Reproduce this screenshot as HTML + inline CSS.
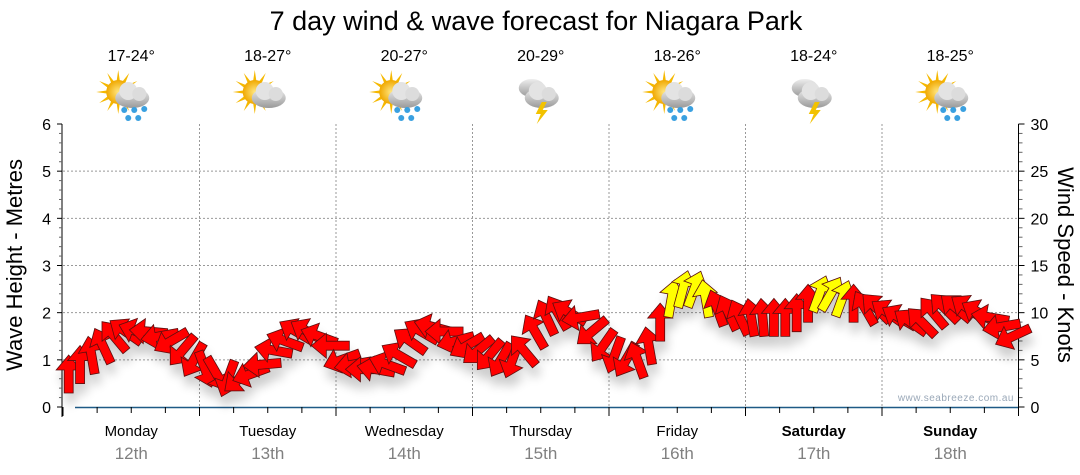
<!DOCTYPE html>
<html><head><meta charset="utf-8"><style>
html,body{margin:0;padding:0;background:#fff;}
svg{display:block;font-family:"Liberation Sans",sans-serif;}
</style></head><body>
<svg id="chart" width="1080" height="475" viewBox="0 0 1080 475" xmlns="http://www.w3.org/2000/svg">
<defs>
<filter id="sh" x="-50%" y="-50%" width="200%" height="200%">
<feGaussianBlur in="SourceAlpha" stdDeviation="5"/>
<feOffset dx="2" dy="10" result="b"/>
<feComponentTransfer><feFuncA type="linear" slope="0.2"/></feComponentTransfer>
<feMerge><feMergeNode/><feMergeNode in="SourceGraphic"/></feMerge>
</filter>
<radialGradient id="sun" cx="0.5" cy="0.5" r="0.5"><stop offset="0" stop-color="#ffe680"/><stop offset="1" stop-color="#f0a800"/></radialGradient>
<linearGradient id="cloud" x1="0" y1="0" x2="0" y2="1"><stop offset="0" stop-color="#eeeeee"/><stop offset="1" stop-color="#9a9a9a"/></linearGradient>
</defs>
<text x="536" y="30" text-anchor="middle" font-size="27" fill="#000">7 day wind &amp; wave forecast for Niagara Park</text>
<g id="grid"></g>
<g id="axes"></g>
<g id="topg"></g>
<g id="arrows" filter="url(#sh)"></g>
<text x="1014" y="401" text-anchor="end" font-size="10" fill="#9aa8b8" letter-spacing="0.5">www.seabreeze.com.au</text>
<text transform="translate(22,265) rotate(-90)" text-anchor="middle" font-size="22" fill="#000">Wave Height - Metres</text>
<text transform="translate(1058,265) rotate(90)" text-anchor="middle" font-size="22" fill="#000">Wind Speed - Knots</text>
</svg>
<script>
const days = ["Monday","Tuesday","Wednesday","Thursday","Friday","Saturday","Sunday"];
const dates = ["12th","13th","14th","15th","16th","17th","18th"];
const temps = ["17-24°","18-27°","20-27°","20-29°","18-26°","18-24°","18-25°"];
const icons = ["rain","cloud","rain","storm","rain","storm","rain"];
const waveTicks = [0,1,2,3,4,5,6];
const windTicks = [0,5,10,15,20,25,30];
// wind speed (knots) every 2 hours
const windSpeed = [
 3.5,4.5,5.5,6.5,7.5,8,8,8,7.5,7,6,5,
 4,3.5,3,3,3.5,4.5,6,7,8,8,7.5,6.5,
 5,4.5,4,4,4.5,5.5,7,8,8.5,8,7,6.5,
 6,5.5,5,5,6,8,9.5,10,10,9.5,8,6.5,
 5.5,5,5,6.5,9,11.5,12.5,12.5,11.5,10.5,10,9.5,
 9.5,9.5,9.5,9.5,10,11,12,12,11.5,11,10.5,10.5,
 10,9.5,9,9,10,10.5,10.5,10.5,10,9.5,8.5,7.5
];
// arrow direction (deg, 0 = pointing up, clockwise)
const windDir = [
 0,0,-10,-25,-40,-55,-70,-85,-100,-120,-140,-150,
 160,150,-160,-130,-110,-95,-80,-70,-60,-60,-70,-90,
 -110,-100,-90,-80,-70,-60,-55,-60,-75,-90,-105,-120,
 -130,-140,-150,-160,-40,-30,-25,-30,-60,-100,-130,-145,
 -160,-150,-20,-10,0,10,15,20,-10,-20,-25,-25,
 -10,-5,0,0,0,0,20,30,20,0,-30,-45,
 -55,-60,-55,-45,-40,-45,-50,-55,-60,-80,-100,-115
];
const gustLimit = 11.5;

const NS="http://www.w3.org/2000/svg";
function el(tag,attrs,parent,txt){const e=document.createElementNS(NS,tag);for(const k in attrs)e.setAttribute(k,attrs[k]);if(txt!==undefined)e.textContent=txt;parent.appendChild(e);return e;}
const X0=63,X1=1018.5,Y0=407,Y1=124;
const dayW=(X1-X0)/7;
const yWave=v=>Y0-(v/6)*(Y0-Y1);
const yWind=v=>Y0-(v/30)*(Y0-Y1);
const xTime=h=>X0+h/24*dayW;
const gridG=document.getElementById('grid'),axesG=document.getElementById('axes'),topG=document.getElementById('topg'),arrG=document.getElementById('arrows');

for(const t of waveTicks){ if(t===0||t===6)continue;
 const g=el('line',{x1:X0,x2:X1,y1:yWave(t),y2:yWave(t),stroke:'#999','stroke-dasharray':'2,2','stroke-width':1},gridG);
 
 }
for(let d=1;d<7;d++){const x=X0+d*dayW;
 const g=el('line',{x1:x,x2:x,y1:Y1,y2:Y0,stroke:'#999','stroke-dasharray':'2,2','stroke-width':1},gridG);
 
 }
let a=el('line',{x1:X0-1,x2:X0-1,y1:Y1,y2:Y0+10,stroke:'#000'},axesG);


for(let i=0;i<=30;i++){const y=yWind(i);const major=i%5===0;
 el('line',{x1:X0-(major?6:4),x2:X0-1,y1:y,y2:y,stroke:major?'#000':'#666'},axesG);
 el('line',{x1:X1,x2:X1+(major?6:4),y1:y,y2:y,stroke:major?'#000':'#666'},axesG);}
for(const t of waveTicks){const l=el('text',{x:X0-12,y:yWave(t)+6,'text-anchor':'end','font-size':16,fill:'#000'},axesG,t);
 
 }
a=el('line',{x1:X1,x2:X1,y1:Y1,y2:Y0,stroke:'#000'},axesG);


for(const t of windTicks){const l=el('text',{x:X1+12,y:yWind(t)+6,'font-size':16,fill:'#000'},axesG,t);
 
 }
a=el('line',{x1:X0+12,x2:X1,y1:Y0+0.5,y2:Y0+0.5,stroke:'#1e5a86','stroke-width':1.5},axesG);


for(let q=0;q<=28;q++){const x=X0+q*dayW/4;const major=q%4===0;
 el('line',{x1:x,x2:x,y1:Y0,y2:Y0+(major?9:6),stroke:'#000'},axesG);}
days.forEach((d,i)=>{const cx=X0+(i+0.5)*dayW;const bold=i>=5;
 const t=el('text',{x:cx,y:436,'text-anchor':'middle','font-size':15,'font-weight':bold?'bold':'normal',fill:'#000'},axesG,d);
 
 
 const t2=el('text',{x:cx,y:459,'text-anchor':'middle','font-size':17,fill:'#808080'},axesG,dates[i]);
 
 
 const t3=el('text',{x:cx,y:61,'text-anchor':'middle','font-size':16,fill:'#000'},topG,temps[i]);
 
 
 const g=el('g',{transform:`translate(${cx-1},96)`},topG);
 
 
 const kind=icons[i];
 if(kind!=='storm'){ for(let r=0;r<12;r++){const an=r*30*Math.PI/180;
   el('polygon',{points:`${-12+Math.cos(an-0.15)*11},${-4+Math.sin(an-0.15)*11} ${-12+Math.cos(an)*22},${-4+Math.sin(an)*22} ${-12+Math.cos(an+0.15)*11},${-4+Math.sin(an+0.15)*11}`,fill:'#f5b800'},g);}
  el('circle',{cx:-12,cy:-4,r:12,fill:'url(#sun)'},g);}
 if(kind==='storm'){el('ellipse',{cx:-8,cy:-8,rx:13,ry:9,fill:'url(#cloud)'},g);}
 el('ellipse',{cx:2,cy:2,rx:17,ry:10,fill:'url(#cloud)'},g);
 el('circle',{cx:-2,cy:-5,r:9,fill:'#e3e3e3'},g);
 el('circle',{cx:9,cy:-2,r:7,fill:'#dcdcdc'},g);
 if(kind==='rain'){[[-6,14],[4,14],[14,13],[-2,22],[8,22]].forEach(p=>el('circle',{cx:p[0],cy:p[1],r:3,fill:'#3aa0e0'},g));}
 if(kind==='storm'){el('polygon',{points:'2,6 -4,18 1,18 -3,28 8,14 3,14 7,6',fill:'#f2c200'},g);}
});
windSpeed.forEach((v,i)=>{
 const x=xTime(i*2+1),y=yWind(v);
 const p=el('polygon',{points:'0,-19 12.5,-4 4.5,-4 4.5,19 -4.5,19 -4.5,-4 -12.5,-4',
  transform:`translate(${x},${y}) rotate(${windDir[i]})`,fill:v>=gustLimit?'#ffff00':'#ff0000',stroke:'#5a1010','stroke-width':0.8},arrG);
 
 
});
</script>
</body></html>
